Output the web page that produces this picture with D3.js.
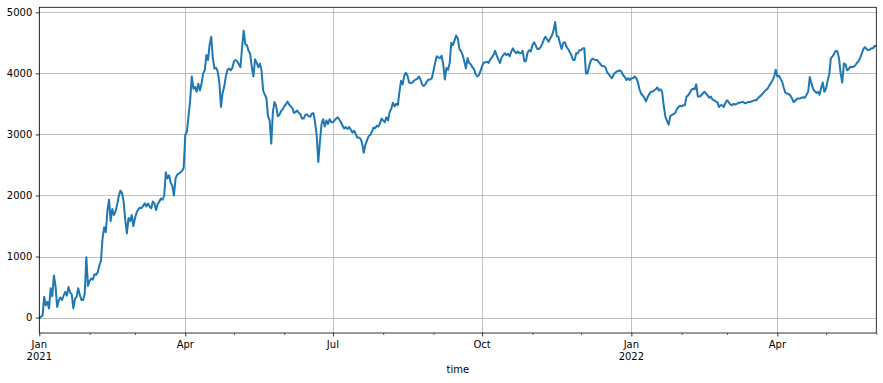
<!DOCTYPE html>
<html>
<head>
<meta charset="utf-8">
<script src="https://cdn.jsdelivr.net/npm/d3@7"></script>
<style>
  html, body { margin: 0; padding: 0; background: #fff; }
  svg { display: block; }
  text { font-family: "DejaVu Sans", sans-serif; font-size: 10px; fill: #000; }
</style>
</head>
<body>
<svg id="chart" width="883" height="383"></svg>
<script>
// ---- data (one value per day from 2021-01-01) ----
const startDate = "2021-01-01";
const stepDays = 1;
const values = [
  -10, 15, 30, 340, 200, 260, 150, 480, 350, 690,
  520, 175, 280, 330, 290, 360, 420, 360, 500, 410,
  380, 150, 310, 340, 480, 370, 290, 290, 390, 990,
  520, 600, 640, 620, 710, 700, 740, 850, 930, 1300,
  1480, 1400, 1750, 1930, 1580, 1780, 1680, 1740, 1850, 1990,
  2080, 2040, 1900, 1600, 1380, 1630, 1580, 1680, 1500, 1630,
  1720, 1770, 1800, 1790, 1830, 1870, 1820, 1870, 1820, 1790,
  1900, 1870, 1760, 1860, 1900, 1950, 1930, 2000, 2380, 2280,
  2330, 2210, 2160, 2000, 2280, 2340, 2360, 2380, 2400, 2450,
  3000, 3040, 3300, 3560, 3950, 3750, 3780, 3700, 3830, 3720,
  3830, 4000, 4050, 4300, 4220, 4470, 4600, 4250, 4080, 4090,
  4030, 3850, 3450, 3680, 3780, 3950, 4060, 4080, 4050, 4090,
  4200, 4220, 4200, 4150, 4100, 4420, 4700, 4480, 4460, 4370,
  4320, 4100, 3950, 4230, 4180, 4100, 4160, 4050, 3720, 3650,
  3600, 3300, 3230, 2850, 3370, 3530, 3470, 3300, 3320, 3380,
  3410, 3460, 3490, 3540, 3490, 3460, 3430, 3350, 3370, 3390,
  3350, 3330, 3260, 3260, 3320, 3330, 3300, 3290, 3340, 3350,
  3200, 2990, 2550, 2880, 3170, 3250, 3130, 3230, 3170, 3250,
  3200, 3200, 3230, 3260, 3280, 3240, 3200, 3140, 3100, 3120,
  3090, 3120, 3080, 3030, 3060, 3010, 2950, 2950, 2930, 2860,
  2700, 2830, 2900, 2970, 2990, 3040, 3110, 3100, 3140, 3130,
  3180, 3260, 3230, 3200, 3280, 3230, 3370, 3420, 3520, 3460,
  3500, 3480, 3690, 3880, 3820, 3960, 4010, 3960, 3850, 3840,
  3850, 3880, 3900, 3910, 3950, 3900, 3820, 3790, 3820, 3870,
  3900, 3900, 3920, 4040, 4170, 4280, 4260, 4250, 4290, 4150,
  3900, 4090, 4060, 4170, 4500, 4460, 4540, 4620, 4570, 4400,
  4360, 4300, 4200, 4080, 4250, 4170, 4150, 4100, 4070, 3990,
  3950, 3970, 4040, 4120, 4180, 4180, 4190, 4170, 4230, 4260,
  4300, 4370, 4290, 4230, 4170, 4260, 4300, 4330, 4300, 4320,
  4280, 4360, 4410, 4360, 4330, 4360, 4330, 4330, 4370, 4200,
  4200, 4340, 4380, 4360, 4460, 4510, 4460, 4400, 4400, 4430,
  4480, 4550, 4600, 4560, 4520, 4570, 4620, 4700, 4840, 4610,
  4600, 4490, 4400, 4500, 4510, 4440, 4400, 4350, 4300, 4220,
  4220, 4330, 4330, 4380, 4380, 4410, 4410, 4000, 4000, 4120,
  4210, 4240, 4230, 4220, 4220, 4180, 4150, 4120, 4120, 4100,
  4020, 3990, 3950, 3920, 3980, 4010, 4030, 4040, 4050, 4020,
  3970, 3940, 3890, 3920, 3890, 3920, 3920, 3950, 3920, 3860,
  3740, 3670, 3640, 3600, 3540, 3610, 3660, 3700, 3700, 3720,
  3740, 3770, 3720, 3740, 3690, 3460, 3290, 3220, 3160, 3300,
  3320, 3330, 3350, 3410, 3450, 3470, 3460, 3480, 3480, 3620,
  3640, 3680, 3730, 3750, 3740, 3820, 3620, 3620, 3640, 3670,
  3700, 3670, 3640, 3600, 3620, 3570, 3560, 3540, 3530, 3450,
  3480, 3480, 3450, 3520, 3560, 3530, 3490, 3480, 3500, 3490,
  3500, 3520, 3520, 3530, 3530, 3510, 3520, 3530, 3530, 3540,
  3550, 3560, 3560, 3590, 3620, 3640, 3670, 3700, 3730, 3750,
  3800, 3840, 3890, 3940, 4060, 3950, 3960, 3910, 3860, 3760,
  3680, 3670, 3660, 3640, 3590, 3530, 3550, 3580, 3590, 3590,
  3600, 3610, 3600, 3650, 3700, 3940, 3840, 3750, 3710, 3680,
  3700, 3650, 3760, 3850, 3700, 3750, 3880, 3990, 4250, 4280,
  4320, 4370, 4360, 4250, 4000, 3850, 4160, 4150, 4050, 4070,
  4110, 4100, 4110, 4130, 4170, 4200, 4250, 4320, 4400, 4430,
  4400, 4380, 4390, 4410, 4410, 4450, 4450
];
const yTicks = [0, 1000, 2000, 3000, 4000, 5000];
const xLabel = "time";

// ---- layout ----
const W = 883, H = 383;
const m = { left: 39.3, right: 883 - 876.3, top: 7.3, bottom: 383 - 333 };

const svg = d3.select("#chart");
svg.append("rect").attr("width", W).attr("height", H).attr("fill", "#fff");

const t0 = d3.utcParse("%Y-%m-%d")(startDate);
const data = values.map((v, i) => ({ date: d3.utcDay.offset(t0, i * stepDays), value: v }));

const x = d3.scaleUtc()
  .domain(d3.extent(data, d => d.date))
  .range([m.left, W - m.right]);

const [vmin, vmax] = d3.extent(data, d => d.value);
const pad = (vmax - vmin) * 0.05;
const y = d3.scaleLinear()
  .domain([vmin - pad, vmax + pad])
  .range([H - m.bottom, m.top]);

const majorTicks = d3.utcMonth.every(3).range(x.domain()[0], d3.utcDay.offset(x.domain()[1], 1));
const allMonths = d3.utcMonth.range(x.domain()[0], d3.utcDay.offset(x.domain()[1], 1));
const minorTicks = allMonths.filter(d => d.getUTCMonth() % 3 !== 0);

// grid
const grid = svg.append("g").attr("stroke", "#b0b0b0").attr("stroke-width", 0.8);
grid.selectAll("line.gx").data(majorTicks).join("line")
  .attr("x1", d => Math.round(x(d)) + 0.5).attr("x2", d => Math.round(x(d)) + 0.5)
  .attr("y1", m.top).attr("y2", H - m.bottom);
grid.selectAll("line.gy").data(yTicks).join("line")
  .attr("y1", d => Math.round(y(d)) + 0.5).attr("y2", d => Math.round(y(d)) + 0.5)
  .attr("x1", m.left).attr("x2", W - m.right);

// line
const line = d3.line().x(d => x(d.date)).y(d => y(d.value));
svg.append("path").datum(data)
  .attr("fill", "none")
  .attr("stroke", "#1f77b4")
  .attr("stroke-width", 2)
  .attr("stroke-linejoin", "round")
  .attr("d", line);

// axes using d3 axis generators
const xAxisMajor = d3.axisBottom(x).tickValues(majorTicks).tickSize(3.5).tickPadding(3.5)
  .tickFormat(() => "");
const gx = svg.append("g").attr("transform", `translate(0,${H - m.bottom})`).call(xAxisMajor);
const xAxisMinor = d3.axisBottom(x).tickValues(minorTicks).tickSize(2).tickFormat(() => "");
const gxm = svg.append("g").attr("transform", `translate(0,${H - m.bottom})`).call(xAxisMinor);
[gx, gxm].forEach(g => {
  g.select(".domain").remove();
  g.selectAll(".tick line").attr("stroke", "#000").attr("stroke-width", 0.8);
});
gxm.selectAll(".tick line").attr("stroke-width", 0.6);

// x tick labels (month, and year under January)
const fmtMonth = d3.utcFormat("%b");
const fmtYear = d3.utcFormat("%Y");
majorTicks.forEach(d => {
  svg.append("text")
    .attr("x", x(d))
    .attr("y", 348)
    .attr("text-anchor", "middle")
    .text(fmtMonth(d));
  if (d.getUTCMonth() === 0) {
    svg.append("text")
      .attr("x", x(d))
      .attr("y", 360)
      .attr("text-anchor", "middle")
      .text(fmtYear(d));
  }
});

const yAxis = d3.axisLeft(y).tickValues(yTicks).tickSize(3.5).tickPadding(3.5).tickFormat(d3.format("d"));
const gy = svg.append("g").attr("transform", `translate(${m.left},0)`).call(yAxis);
gy.select(".domain").remove();
gy.selectAll(".tick line").attr("stroke", "#000").attr("stroke-width", 0.8);
gy.selectAll(".tick text")
  .attr("font-family", "DejaVu Sans, sans-serif")
  .attr("font-size", 10)
  .attr("fill", "#000");

// spines
svg.append("rect")
  .attr("x", m.left).attr("y", m.top)
  .attr("width", W - m.right - m.left).attr("height", H - m.bottom - m.top)
  .attr("fill", "none").attr("stroke", "#000").attr("stroke-width", 0.8);

// axis label
svg.append("text")
  .attr("x", (m.left + W - m.right) / 2)
  .attr("y", 373)
  .attr("text-anchor", "middle")
  .text(xLabel);
</script>
</body>
</html>
